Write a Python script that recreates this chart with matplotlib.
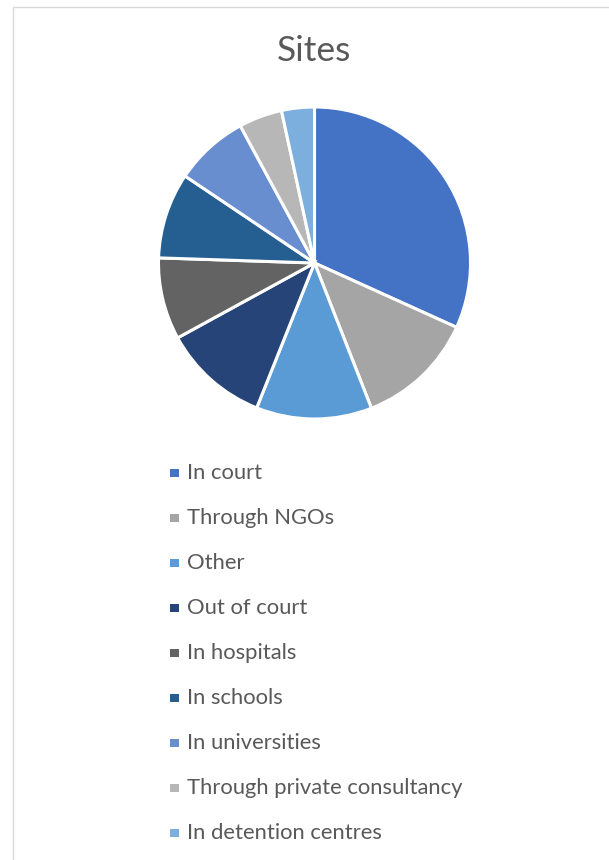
import matplotlib
matplotlib.use("Agg")
import matplotlib.pyplot as plt
from matplotlib.patches import Rectangle

title = "Sites"
labels = ["In court", "Through NGOs", "Other", "Out of court", "In hospitals",
          "In schools", "In universities", "Through private consultancy",
          "In detention centres"]
values = [31.8, 12.3, 12.0, 11.0, 8.5, 8.9, 7.7, 4.5, 3.4]
colors = ["#4472C4", "#A5A5A5", "#5B9BD5", "#264478", "#636363",
          "#255E91", "#698ED0", "#B7B7B7", "#7CAFDD"]

W, H = 609, 860
fig = plt.figure(figsize=(W / 100, H / 100), dpi=100)
fig.patch.set_facecolor("white")

# chart frame
fig.patches.append(Rectangle((12.5 / W, -0.1), 1.2, 1 - 6.5 / H + 0.1,
                             transform=fig.transFigure, fill=False,
                             edgecolor="#D9D9D9", linewidth=1.0))

cx, cy, r = 314.5, 263, 156
ax = fig.add_axes([(cx - r) / W, 1 - (cy + r) / H, 2 * r / W, 2 * r / H])
ax.pie(values, colors=colors, startangle=90, counterclock=False,
       wedgeprops=dict(edgecolor="white", linewidth=2.2))
ax.set_xlim(-1, 1)
ax.set_ylim(-1, 1)
ax.set_aspect("equal")
ax.axis("off")

fam = ["Lato", "DejaVu Sans"]
fig.text(cx / W, 1 - 51 / H, title, ha="center", va="center",
         fontsize=25.5, color="#595959", family=fam)

y0, dy = 473, 45
sq = 8.5
for i, (lab, col) in enumerate(zip(labels, colors)):
    y = y0 + i * dy
    fig.patches.append(Rectangle(((174.5 - sq / 2) / W, 1 - (y + sq / 2) / H),
                                 sq / W, sq / H, transform=fig.transFigure,
                                 facecolor=col, edgecolor="none"))
    fig.text(187 / W, 1 - y / H, lab, ha="left", va="center",
             fontsize=15.8, color="#595959", family=fam)

fig.savefig("out.png", dpi=100, facecolor="white")
